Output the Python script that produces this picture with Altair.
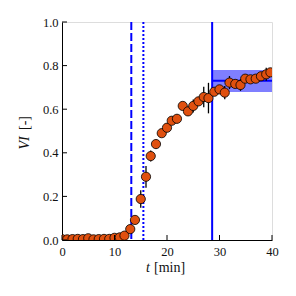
import altair as alt
import pandas as pd

# data
t_min = [0, 1, 2, 3, 4, 5, 6, 7, 8, 9, 10, 11, 11.9, 13.0, 13.9, 15.0, 16.0, 16.9, 17.9,
         19.0, 20.0, 20.9, 21.9, 23.0, 24.0, 25.0, 26.0, 27.0, 27.9, 29.0, 30.0, 31.0,
         31.9, 33.0, 34.0, 34.9, 35.9, 36.9, 37.9, 38.9, 39.7]
vi = [0.004, 0.003, 0.004, 0.005, 0.004, 0.008, 0.003, 0.004, 0.005, 0.005, 0.010, 0.012,
      0.020, 0.050, 0.092, 0.188, 0.290, 0.385, 0.440, 0.490, 0.515, 0.547, 0.556, 0.615,
      0.590, 0.615, 0.636, 0.656, 0.651, 0.680, 0.691, 0.676, 0.722, 0.716, 0.711, 0.740,
      0.737, 0.740, 0.751, 0.760, 0.769]
vi_err = [0.003, 0.003, 0.003, 0.003, 0.003, 0.003, 0.003, 0.003, 0.003, 0.003, 0.004, 0.004,
          0.005, 0.010, 0.015, 0.040, 0.050, 0.025, 0.020, 0.015, 0.020, 0.020, 0.020, 0.015,
          0.020, 0.030, 0.020, 0.047, 0.070, 0.020, 0.020, 0.030, 0.030, 0.020, 0.027, 0.020,
          0.015, 0.015, 0.015, 0.030, 0.020]

vlines_t = [13.2, 15.5, 28.6]
vlines_style = ["dashed", "dotted", "solid"]
band_start = [28.6]
band_end = [40]
band_low = [0.679]
band_high = [0.780]
band_mid = [0.731]

x_ticks = [0, 10, 20, 30, 40]
y_ticks = [0.0, 0.2, 0.4, 0.6, 0.8, 1.0]

W, H = 210, 218
BLUE = "#0000ff"
ORANGE = "#e0500f"
FONT = "Liberation Serif"
TXT = "#111111"

df = pd.DataFrame({"t": t_min, "vi": vi, "err": vi_err})
df["lo"] = df["vi"] - df["err"]
df["hi"] = df["vi"] + df["err"]

xs = alt.Scale(domain=[0, 40], nice=False, zero=False)
ys = alt.Scale(domain=[0, 1], nice=False)

x_axis = alt.Axis(values=x_ticks, format="d", ticks=False, grid=False, labelFlush=False,
                  labelOverlap=False, labelPadding=5, title=None, labelFontSize=12.5,
                  labelFont=FONT, labelColor=TXT, domainColor="black")
y_axis = alt.Axis(values=y_ticks, format=".1f", ticks=False, grid=False, labelFlush=False,
                  labelOverlap=False, labelPadding=4, title=None, labelFontSize=12.5,
                  labelFont=FONT, labelColor=TXT, domainColor="black")

band_df = pd.DataFrame({"x1": band_start, "x2": band_end, "lo": band_low,
                        "hi": band_high, "mid": band_mid})

band = alt.Chart(band_df).mark_rect(color=BLUE, opacity=0.5).encode(
    x=alt.X("x1:Q", scale=xs, axis=x_axis), x2="x2:Q",
    y=alt.Y("lo:Q", scale=ys, axis=y_axis), y2="hi:Q")
band_line = alt.Chart(band_df).mark_rule(color=BLUE, strokeWidth=2).encode(
    x=alt.X("x1:Q", scale=xs), x2="x2:Q", y=alt.Y("mid:Q", scale=ys))

dash_map = {"dashed": [8, 3], "dotted": [2, 2], "solid": [1, 0]}
vrules = []
for tv, st in zip(vlines_t, vlines_style):
    r = alt.Chart(pd.DataFrame({"t": [tv]})).mark_rule(
        color=BLUE, strokeWidth=2, strokeDash=dash_map[st]).encode(
        x=alt.X("t:Q", scale=xs), y=alt.value(0), y2=alt.value(H))
    vrules.append(r)

errs = alt.Chart(df).mark_rule(color="black", strokeWidth=1.3, clip=True).encode(
    x=alt.X("t:Q", scale=xs), y=alt.Y("lo:Q", scale=ys), y2="hi:Q")
pts = alt.Chart(df).mark_point(filled=True, fill=ORANGE, stroke="black", strokeWidth=0.8,
                               size=85, opacity=1, clip=True).encode(
    x=alt.X("t:Q", scale=xs), y=alt.Y("vi:Q", scale=ys))

xt = alt.Chart(pd.DataFrame({"v": x_ticks})).mark_rule(color="black", strokeWidth=1).encode(
    x=alt.X("v:Q", scale=xs), y=alt.value(H), y2=alt.value(H - 5))
yt = alt.Chart(pd.DataFrame({"v": y_ticks})).mark_rule(color="black", strokeWidth=1).encode(
    y=alt.Y("v:Q", scale=ys), x=alt.value(0), x2=alt.value(5))

tx_it = alt.Chart(pd.DataFrame({"s": ["t"]})).mark_text(
    font=FONT, fontSize=14, fontStyle="italic", align="center", baseline="middle",
    color=TXT).encode(text="s:N", x=alt.value(86), y=alt.value(246))
tx_rm = alt.Chart(pd.DataFrame({"s": ["[min]"]})).mark_text(
    font=FONT, fontSize=14, align="left", baseline="middle",
    color=TXT).encode(text="s:N", x=alt.value(92), y=alt.value(246))
ty_it = alt.Chart(pd.DataFrame({"s": ["VI"]})).mark_text(
    font=FONT, fontSize=14, fontStyle="italic", align="center", baseline="middle",
    angle=270, color=TXT).encode(text="s:N", x=alt.value(-37), y=alt.value(121))
ty_rm = alt.Chart(pd.DataFrame({"s": ["[-]"]})).mark_text(
    font=FONT, fontSize=14, align="center", baseline="middle",
    angle=270, color=TXT).encode(text="s:N", x=alt.value(-37), y=alt.value(101))

chart = alt.layer(band, band_line, *vrules, errs, pts, xt, yt,
                  tx_it, tx_rm, ty_it, ty_rm).properties(
    width=W, height=H,
    autosize=alt.AutoSizeParams(type="none"),
    padding={"left": 54, "top": 14, "right": 16, "bottom": 48},
).configure_view(stroke="black", strokeWidth=1).configure(background="white")

chart.save("out.html", embed_options={"renderer": "svg", "actions": False})
